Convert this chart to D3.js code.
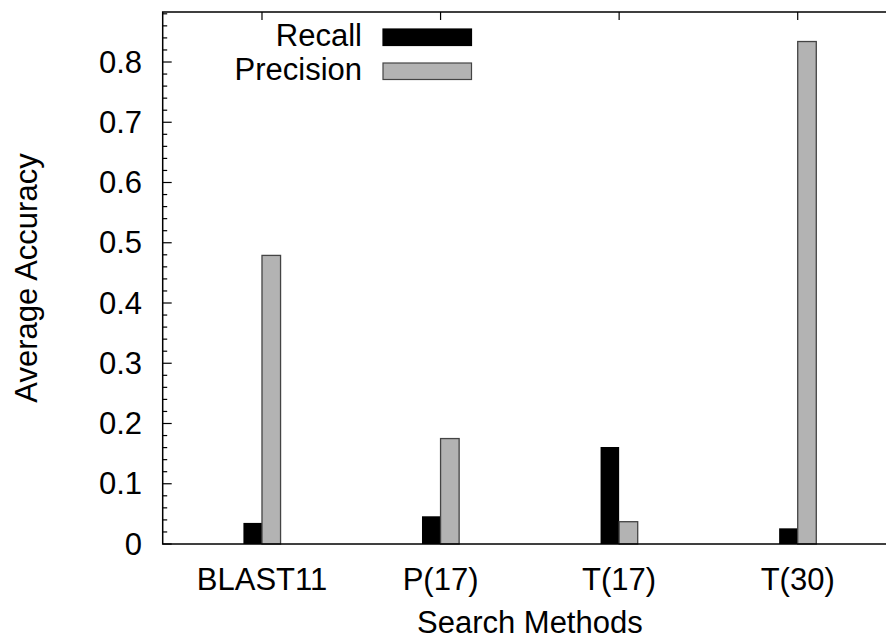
<!DOCTYPE html>
<html>
<head>
<meta charset="utf-8">
<script src="https://cdn.jsdelivr.net/npm/d3@7"></script>
<style>
  body { margin: 0; background: #fff; }
  svg { display: block; font-family: "Liberation Sans", Arial, sans-serif; }
</style>
</head>
<body>
<svg width="886" height="641"></svg>
<script>
var methods = ["BLAST11", "P(17)", "T(17)", "T(30)"];
var recall = [0.035, 0.046, 0.161, 0.026];
var precision = [0.479, 0.175, 0.037, 0.834];
var yTicks = [0, 0.1, 0.2, 0.3, 0.4, 0.5, 0.6, 0.7, 0.8];

var svg = d3.select("svg");
var FONT = "31px";
var plotL = 162.7, plotR = 897, plotT = 12, plotB = 544;
var BAR_W = 0.104;

// x in category units, y in accuracy
var x = d3.scaleLinear().domain([-0.556, 3.556]).range([plotL, plotR]);
var y = d3.scaleLinear().domain([0, 0.883]).range([plotB, plotT]);

// minor ticks every 0.02 on y, major every 0.1
var minor = d3.range(0, 0.881, 0.02);
svg.append("g").selectAll("line").data(minor).enter().append("line")
  .attr("x1", plotL).attr("x2", function(d, i){ return plotL + (i % 5 == 0 ? 9 : 4.5); })
  .attr("y1", function(d){ return y(d); }).attr("y2", function(d){ return y(d); })
  .style("stroke", "black").style("stroke-width", "1.2px");

// y labels
svg.append("g").selectAll("text").data(yTicks).enter().append("text")
  .attr("x", 142).attr("y", function(d){ return y(d) + 10.5; })
  .attr("text-anchor", "end").style("font-size", FONT)
  .text(function(d){ return d3.format("")(d); });

// top ticks
svg.append("g").selectAll("line").data(methods).enter().append("line")
  .attr("x1", function(d, i){ return x(i); }).attr("x2", function(d, i){ return x(i); })
  .attr("y1", plotT).attr("y2", plotT + 8)
  .style("stroke", "black").style("stroke-width", "1.2px");

// x labels
svg.append("g").selectAll("text").data(methods).enter().append("text")
  .attr("x", function(d, i){ return x(i); }).attr("y", 590)
  .attr("text-anchor", "middle").style("font-size", FONT)
  .text(function(d){ return d; });

// bars
svg.append("g").selectAll("rect").data(recall).enter().append("rect")
  .attr("x", function(d, i){ return x(i - BAR_W); })
  .attr("width", x(BAR_W) - x(0))
  .attr("y", function(d){ return y(d); })
  .attr("height", function(d){ return plotB - y(d); })
  .style("fill", "black");

svg.append("g").selectAll("rect").data(precision).enter().append("rect")
  .attr("x", function(d, i){ return x(i); })
  .attr("width", x(BAR_W) - x(0))
  .attr("y", function(d){ return y(d); })
  .attr("height", function(d){ return plotB - y(d); })
  .style("fill", "#b3b3b3").style("stroke", "#444").style("stroke-width", "1.3px");

// frame
svg.append("rect")
  .attr("x", plotL).attr("y", plotT).attr("width", plotR - plotL).attr("height", plotB - plotT)
  .style("fill", "none").style("stroke", "black").style("stroke-width", "1.5px");

// legend
var legend = [{name: "Recall", fill: "black", stroke: "black"},
              {name: "Precision", fill: "#b3b3b3", stroke: "#444"}];
var lg = svg.append("g").selectAll("g").data(legend).enter().append("g")
  .attr("transform", function(d, i){ return "translate(0," + (i * 34) + ")"; });
lg.append("text").attr("x", 362).attr("y", 46).attr("text-anchor", "end")
  .style("font-size", FONT).text(function(d){ return d.name; });
lg.append("rect").attr("x", 383).attr("y", 29).attr("width", 88.5).attr("height", 16.5)
  .style("fill", function(d){ return d.fill; }).style("stroke", function(d){ return d.stroke; })
  .style("stroke-width", "1.2px");

// axis titles
svg.append("text").attr("x", (plotL + plotR) / 2).attr("y", 633)
  .attr("text-anchor", "middle").style("font-size", FONT).text("Search Methods");
svg.append("text").attr("transform", "translate(37," + ((plotT + plotB) / 2) + ") rotate(-90)")
  .attr("text-anchor", "middle").style("font-size", FONT).text("Average Accuracy");
</script>
</body>
</html>
